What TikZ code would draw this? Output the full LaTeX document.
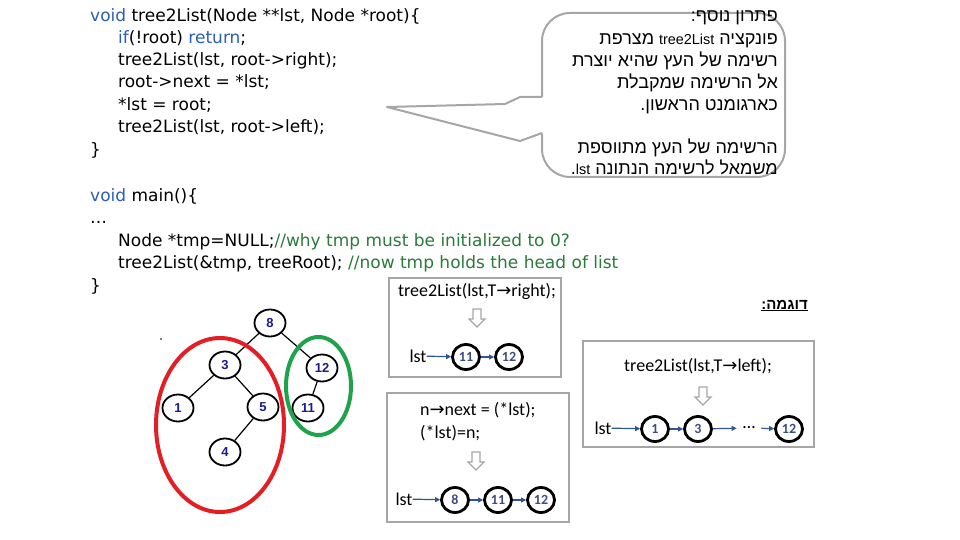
\documentclass[tikz,border=0pt]{standalone}
\usepackage{fontspec}
\usetikzlibrary{shapes.geometric,arrows.meta}
\TeXXeTstate=1
\newfontfamily\codefont{DejaVu Sans}
\newfontfamily\hebfont[Script=Hebrew]{Liberation Sans}
\newfontfamily\calfont{Carlito}
\newfontfamily\arwfont{DejaVu Sans}
\newfontfamily\treefont{Liberation Sans}
\newfontfamily\latinfont[Scale=0.8]{Liberation Sans}
\newcommand{\latinpart}[1]{\beginL{\latinfont #1}\endL}
\definecolor{kw}{HTML}{2B5FB4}
\definecolor{cm}{HTML}{2A7A3B}
\definecolor{bx}{HTML}{A6A6A6}
\definecolor{ln}{HTML}{2F5597}
\definecolor{tn}{HTML}{1B1B8F}
\definecolor{cn}{HTML}{3C4F7A}
\definecolor{rd}{HTML}{E31E24}
\definecolor{gr}{HTML}{1EA34A}
\tikzset{hollowarrow/.pic={\draw[bx, line width=1.2pt, line join=miter] (-4,-9) -- (4,-9) -- (4,1) -- (8,1) -- (0,9) -- (-8,1) -- (-4,1) -- cycle;}}
\begin{document}
\begin{tikzpicture}[x=1pt,y=-1pt,
 code/.style={anchor=base west, inner sep=0pt, font=\codefont\fontsize{17}{20}\selectfont},
 hebl/.style={anchor=base east, inner sep=0pt, font=\hebfont\fontsize{18}{22}\selectfont},
 boxt/.style={inner sep=0pt, font=\calfont\fontsize{18}{22}\selectfont},
 tnode/.style={draw=black, line width=1.8pt, ellipse, minimum width=31pt, minimum height=27pt, inner sep=0pt, font=\treefont\bfseries\fontsize{13}{15}\selectfont, text=tn},
 lnode/.style={draw=black, line width=2.8pt, ellipse, minimum width=27pt, minimum height=25pt, inner sep=0pt, font=\calfont\bfseries\fontsize{14}{16}\selectfont, text=cn},
 link/.style={draw=ln, line width=1.2pt, -{Triangle[length=5pt,width=5pt]}},
 panel/.style={draw=bx, line width=1.5pt},
 bubble/.style={draw=bx, line width=2pt}
]
\useasboundingbox (0,0) rectangle (960,540);

% code
\node[code] (c1) at (90,21.5) {\textcolor{kw}{void} tree2List(Node **lst, Node *root)\{};
\node[code] (c2) at (118,43.5) {\textcolor{kw}{if}(!root) \textcolor{kw}{return};};
\node[code] (c3) at (118,66) {tree2List(lst, root->right);};
\node[code] (c4) at (118,88) {root->next = *lst;};
\node[code] (c5) at (118,110.5) {*lst = root;};
\node[code] (c6) at (118,133) {tree2List(lst, root->left);};
\node[code] (c7) at (90,155.5) {\}};
\node[code] (c8) at (90,201.5) {\textcolor{kw}{void} main()\{};
\node[code] (c9) at (90,223.5) {…};
\node[code] (c10) at (118,246) {Node *tmp=NULL;\textcolor{cm}{//why tmp must be initialized to 0?}};
\node[code] (c11) at (118,268.5) {tree2List(\&tmp, treeRoot); \textcolor{cm}{//now tmp holds the head of list}};
\node[code] (c12) at (90,291) {\}};

% speech bubble
\draw[bubble] (542,13) [rounded corners=28pt] rectangle (785,177);
\fill[white] (544,97) -- (520,97) -- (505,104) -- (387,107) -- (520,141) -- (544,133) -- cycle;
\draw[bubble, line join=round] (542,97) -- (520,97) -- (505,104) -- (387,107) -- (520,141) -- (542,133);
\node[hebl] (h1) at (778,22) {\beginR פתרון נוסף:\endR};
\node[hebl] (h2) at (778,45) {\beginR פונקציה \latinpart{tree2List} מצרפת\endR};
\node[hebl] (h3) at (778,67) {\beginR רשימה של העץ שהיא יוצרת\endR};
\node[hebl] (h4) at (778,89) {\beginR אל הרשימה שמקבלת\endR};
\node[hebl] (h5) at (778,111) {\beginR כארגומנט הראשון.\endR};
\node[hebl] (h7) at (778,154) {\beginR הרשימה של העץ מתווספת\endR};
\node[hebl] (h8) at (778,175) {\beginR משמאל לרשימה הנתונה \latinpart{lst}.\endR};

% example label
\node[hebl, font=\hebfont\bfseries\fontsize{15}{18}\selectfont] (dg) at (808,309) {\underline{\beginR דוגמה:\endR}};

% tree
\fill (161,339) circle (0.8pt);
\node[tnode] (n8) at (270,323) {8};
\node[tnode] (n3) at (225,365) {3};
\node[tnode] (n12) at (322,368) {12};
\node[tnode] (n1) at (178,408) {1};
\node[tnode] (n5) at (263,407) {5};
\node[tnode] (n11) at (308,408) {11};
\node[tnode] (n4) at (225,452) {4};
\draw[line width=1.2pt] (n8) -- (n3);
\draw[line width=1.2pt] (n8) -- (n12);
\draw[line width=1.2pt] (n3) -- (n1);
\draw[line width=1.2pt] (n3) -- (n5);
\draw[line width=1.2pt] (n5) -- (n4);
\draw[line width=1.2pt] (n12) -- (n11);
\draw[rd, line width=4pt] (220,425) ellipse [x radius=64pt, y radius=87pt];
\draw[gr, line width=4pt] (318.5,386) ellipse [x radius=32.5pt, y radius=49pt];

% box 1
\draw[panel] (389,278) rectangle (561,377);
\node[boxt] (t1) at (477,291) {tree2List(lst,T{\arwfont→}right);};
\pic at (477,318) {hollowarrow};
\node[boxt] (l1) at (418,356) {lst};
\node[lnode] (a11) at (466,357) {11};
\node[lnode] (a12) at (509,357) {12};
\draw[link] (l1) -- (a11);
\draw[link] (a11) -- (a12);

% box 2
\draw[panel] (387,393) rectangle (569,522);
\node[boxt, anchor=base west] (t2) at (420,415) {n{\arwfont→}next = (*lst);};
\node[boxt, anchor=base west] (t3) at (420,438) {(*lst)=n;};
\pic at (476,461) {hollowarrow};
\node[boxt] (l2) at (404,499) {lst};
\node[lnode] (b8) at (455,500) {8};
\node[lnode] (b11) at (498,500) {11};
\node[lnode] (b12) at (541,500) {12};
\draw[link] (l2) -- (b8);
\draw[link] (b8) -- (b11);
\draw[link] (b11) -- (b12);

% box 3
\draw[panel] (583,341) rectangle (814,447);
\node[boxt] (t4) at (698,366) {tree2List(lst,T{\arwfont→}left);};
\pic at (703,396) {hollowarrow};
\node[boxt] (l3) at (603,428) {lst};
\node[lnode] (d1) at (655,429) {1};
\node[lnode] (d3) at (698,429) {3};
\node[boxt, inner xsep=6pt] (dd) at (749,428) {…};
\node[lnode] (d12) at (789,429) {12};
\draw[link] (l3) -- (d1);
\draw[link] (d1) -- (d3);
\draw[link] (d3) -- (dd);
\draw[link] (dd) -- (d12);
\end{tikzpicture}
\end{document}
